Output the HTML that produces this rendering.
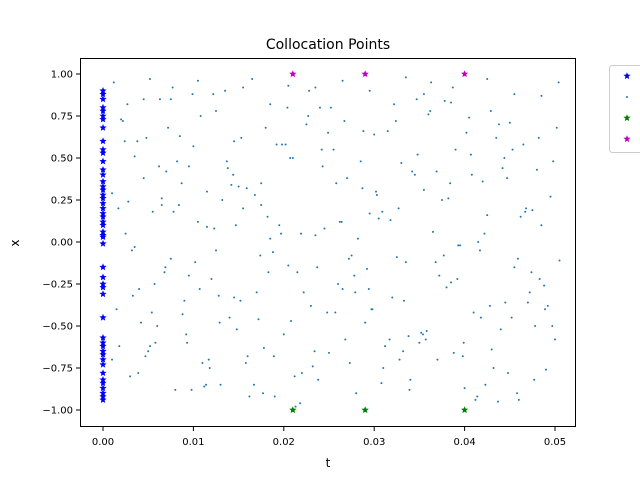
<!DOCTYPE html>
<html><head><meta charset="utf-8"><style>
body{margin:0;background:#fff;font-family:"Liberation Sans","DejaVu Sans",sans-serif}
svg text{font-family:"DejaVu Sans","Liberation Sans",sans-serif}
</style></head><body>
<svg id="c" width="640" height="480" xmlns="http://www.w3.org/2000/svg">
<rect width="640" height="480" fill="#fff"/>
<text x="328" y="49" text-anchor="middle" font-size="14">Collocation Points</text>
<text x="328" y="467" text-anchor="middle" font-size="12">t</text>
<text x="19" y="243" text-anchor="middle" font-size="12" transform="rotate(-90 19 243)">x</text>
<g id="marks"></g>
<rect x="80.5" y="58.5" width="495" height="368" fill="none" stroke="#000" stroke-width="1"/>
<g id="ticks"></g>
<g>
<rect x="609.5" y="65.5" width="40" height="87" rx="3" fill="#fff" stroke="#ccc"/>
</g>
<g id="leg"></g>
</svg>
<script>
const initT = [0];
const initX = [0.90,0.88,0.85,0.80,0.78,0.75,0.73,0.68,0.60,0.55,0.53,0.48,0.43,0.40,0.36,0.33,0.31,0.28,0.26,0.23,0.20,0.17,0.15,0.12,0.10,0.06,0.04,0.03,-0.01,-0.15,-0.21,-0.25,-0.27,-0.31,-0.45,-0.57,-0.60,-0.62,-0.65,-0.67,-0.70,-0.73,-0.78,-0.82,-0.84,-0.87,-0.90,-0.92,-0.94];
const bcT = [0.021,0.029,0.040];
const bcLowX = [-1,-1,-1];
const bcHighX = [1,1,1];
const intT = [0.0012,0.0010,0.0052,0.0075,0.0105,0.0135,0.0155,0.0165,0.0185,0.0205,0.0235,0.0265,0.0295,0.0335,0.0355,0.0385,0.0425,0.0455,0.0485,0.0035,0.0045,0.0065,0.0085,0.0095,0.0115,0.0145,0.0175,0.0195,0.0225,0.0255,0.0285,0.0315,0.0345,0.0375,0.0405,0.0435,0.0465,0.0495,0.0025,0.0055,0.0075,0.0105,0.0125,0.0155,0.0185,0.0215,0.0245,0.0275,0.0305,0.0335,0.0365,0.0395,0.0425,0.0455,0.0485,0.0015,0.0040,0.0060,0.0090,0.0120,0.0140,0.0170,0.0200,0.0230,0.0260,0.0290,0.0320,0.0350,0.0380,0.0410,0.0440,0.0470,0.0500,0.0030,0.0050,0.0080,0.0110,0.0130,0.0160,0.0190,0.0220,0.0250,0.0280,0.0310,0.0340,0.0370,0.0400,0.0430,0.0460,0.0490,0.0020,0.0045,0.0070,0.0100,0.0125,0.0150,0.0180,0.0210,0.0240,0.0270,0.0300,0.0330,0.0360,0.0390,0.0420,0.0450,0.0480,0.0010,0.0035,0.0065,0.0095,0.0115,0.0145,0.0175,0.0205,0.0235,0.0265,0.0295,0.0325,0.0355,0.0385,0.0415,0.0445,0.0475,0.0505,0.0028,0.0058,0.0088,0.0118,0.0148,0.0178,0.0208,0.0238,0.0268,0.0298,0.0328,0.0358,0.0388,0.0418,0.0448,0.0478,0.0018,0.0048,0.0078,0.0108,0.0138,0.0168,0.0198,0.0228,0.0258,0.0288,0.0318,0.0348,0.0378,0.0408,0.0438,0.0468,0.0498,0.0038,0.0068,0.0098,0.0128,0.0158,0.0188,0.0218,0.0248,0.0278,0.0308,0.0338,0.0368,0.0398,0.0428,0.0458,0.0488,0.0022,0.0052,0.0082,0.0112,0.0142,0.0172,0.0202,0.0232,0.0262,0.0292,0.0322,0.0352,0.0382,0.0412,0.0442,0.0472,0.0502,
0.0032,0.0062,0.0092,0.0122,0.0152,0.0182,0.0212,0.0242,0.0272,0.0302,0.0332,0.0362,0.0392,0.0422,0.0452,0.0482,0.0027,0.0057,0.0087,0.0117,0.0147,0.0177,0.0207,0.0237,0.0267,0.0297,0.0327,0.0357,0.0387,0.0417,0.0447,0.0477,0.0042,0.0072,0.0102,0.0132,0.0162,0.0192,0.0222,0.0252,0.0282,0.0312,0.0342,0.0372,0.0402,0.0432,0.0462,0.0492,0.0017,0.0047,0.0077,0.0107,0.0137,0.0167,0.0197,0.0227,0.0257,0.0287,0.0317,0.0347,0.0377,0.0407,0.0437,0.0467,0.0497,0.0033,0.0063,0.0093,0.0123,0.0153,0.0183,0.0213,0.0243,0.0273,0.0303,0.0333,0.0363,0.0393,0.0423,0.0453,0.0483,0.0024,0.0054,0.0084,0.0114,0.0144,0.0174,0.0204,0.0234,0.0264,0.0294,0.0324,0.0354,0.0384,0.0414,0.0444,0.0474,0.0504,0.0039,0.0069,0.0099,0.0129,0.0159,0.0189,0.0219,0.0249,0.0279,0.0309,0.0339,0.0369,0.0399,0.0429,0.0459,0.0489];
const intX = [0.95,-0.70,0.97,0.85,0.96,0.90,0.92,0.97,0.82,0.93,0.92,0.96,0.90,0.98,0.88,0.83,0.97,0.88,0.87,0.51,0.38,0.22,0.63,0.45,0.30,0.60,0.35,0.10,0.70,0.55,0.48,0.66,0.40,0.25,0.74,0.62,0.58,0.27,0.05,0.18,-0.10,0.12,-0.05,0.20,0.02,-0.18,0.08,-0.08,0.14,-0.12,0.06,-0.02,0.16,-0.15,0.10,-0.40,-0.28,-0.50,-0.35,-0.22,-0.45,-0.30,-0.55,-0.38,-0.25,-0.48,-0.33,-0.60,-0.27,-0.42,-0.52,-0.36,-0.58,-0.80,-0.65,-0.88,-0.72,-0.85,-0.68,-0.92,-0.78,-0.66,-0.90,-0.75,-0.82,-0.70,-0.87,-0.64,-0.94,-0.76,0.73,0.85,0.42,0.57,0.78,0.33,0.68,0.50,0.80,0.38,0.64,0.47,0.76,0.55,0.36,0.71,0.43,0.29,-0.03,0.26,-0.20,0.09,-0.33,0.22,-0.14,0.04,-0.28,0.17,-0.09,0.31,-0.24,0.00,-0.36,0.19,-0.11,0.24,-0.60,-0.43,-0.75,-0.52,-0.63,-0.47,-0.82,-0.58,-0.40,-0.70,-0.53,-0.66,-0.45,-0.78,-0.50,-0.62,0.62,0.18,0.75,0.44,0.28,0.58,0.90,0.35,0.66,0.13,0.52,0.84,0.40,0.70,0.20,0.48,0.60,-0.18,-0.88,-0.32,-0.72,-0.06,-0.96,-0.42,-0.20,-0.84,-0.56,-0.12,-0.68,-0.38,-0.90,-0.26,0.72,-0.62,0.48,-0.86,0.34,-0.46,0.58,-0.74,0.12,-0.16,0.82,-0.54,0.26,-0.94,0.44,-0.30,0.68,
-0.05,0.45,-0.55,0.88,-0.35,0.15,-0.80,0.55,-0.10,0.30,-0.65,0.78,-0.22,0.05,-0.45,0.62,0.82,-0.25,0.35,-0.70,0.10,-0.90,0.50,-0.15,0.72,-0.40,0.20,-0.58,0.92,-0.05,0.38,-0.82,-0.48,0.68,-0.12,0.25,-0.92,0.58,-0.30,0.80,0.02,-0.62,0.42,-0.20,0.65,-0.75,0.15,-0.38,0.20,-0.68,0.92,-0.28,0.48,-0.85,0.05,0.75,-0.42,0.32,-0.58,0.85,-0.08,0.52,-0.95,0.18,-0.50,-0.32,0.85,-0.60,0.08,0.62,-0.18,-0.98,0.45,-0.72,0.28,-0.35,0.95,-0.02,-0.85,0.55,-0.22,0.60,-0.42,0.22,-0.85,0.40,-0.08,0.80,-0.65,0.12,-0.28,0.72,-0.55,0.35,-0.92,0.50,-0.18,0.95,-0.78,-0.15,0.88,-0.48,0.32,-0.68,0.05,0.65,-0.30,0.18,-0.88,0.42,-0.60,0.78,-0.10,-0.40,0.30];
const xTicks = [0,0.01,0.02,0.03,0.04,0.05];
const xTickLabels = ["0.00","0.01","0.02","0.03","0.04","0.05"];
const yTicks = [1,0.75,0.5,0.25,0,-0.25,-0.5,-0.75,-1];
const yTickLabels = ["1.00","0.75","0.50","0.25","0.00","−0.25","−0.50","−0.75","−1.00"];
const NS="http://www.w3.org/2000/svg";
const sx=t=>103+t*9040, sy=v=>242-v*168;
function star(cx,cy,r,col){
  let p=[];for(let i=0;i<10;i++){const a=-Math.PI/2+i*Math.PI/5,rr=i%2?r*0.45:r;p.push((cx+rr*Math.cos(a)).toFixed(1)+","+(cy+rr*Math.sin(a)).toFixed(1));}
  const s=document.createElementNS(NS,"polygon");s.setAttribute("points",p.join(" "));s.setAttribute("fill",col);return s;
}
const marks=document.getElementById("marks");
intT.forEach((t,i)=>{if(intX[i]===undefined)return;const c=document.createElementNS(NS,"circle");c.setAttribute("cx",sx(t));c.setAttribute("cy",sy(intX[i]));c.setAttribute("r",1);c.setAttribute("fill","#1f77b4");


marks.appendChild(c);});
initX.forEach(v=>{const s=star(sx(initT[0]),sy(v),3.8,"#0000ff");


marks.appendChild(s);});
bcT.forEach((t,i)=>{const s=star(sx(t),sy(bcLowX[i]),3.8,"#008000");


marks.appendChild(s);
const u=star(sx(t),sy(bcHighX[i]),3.8,"#bf00bf");


marks.appendChild(u);});
const tk=document.getElementById("ticks");
xTicks.forEach((t,i)=>{const x=sx(t);const l=document.createElementNS(NS,"line");l.setAttribute("x1",x);l.setAttribute("x2",x);l.setAttribute("y1",427);l.setAttribute("y2",431);l.setAttribute("stroke","#000");tk.appendChild(l);
const tx=document.createElementNS(NS,"text");tx.setAttribute("x",x);tx.setAttribute("y",445);tx.setAttribute("text-anchor","middle");tx.setAttribute("font-size","10");tx.textContent=xTickLabels[i];


tk.appendChild(tx);});
yTicks.forEach((v,i)=>{const y=sy(v);const l=document.createElementNS(NS,"line");l.setAttribute("x1",76);l.setAttribute("x2",80);l.setAttribute("y1",y);l.setAttribute("y2",y);l.setAttribute("stroke","#000");tk.appendChild(l);
const tx=document.createElementNS(NS,"text");tx.setAttribute("x",73);tx.setAttribute("y",y+3.5);tx.setAttribute("text-anchor","end");tx.setAttribute("font-size","10");tx.textContent=yTickLabels[i];


tk.appendChild(tx);});
const leg=document.getElementById("leg");
[["#0000ff",76,"legend-initial"],["#1f77b4",97,"legend-interior"],["#008000",118,"legend-boundary-low"],["#bf00bf",139,"legend-boundary-high"]].forEach((d,i)=>{
let m;if(i===1){m=document.createElementNS(NS,"circle");m.setAttribute("cx",627);m.setAttribute("cy",d[1]);m.setAttribute("r",1);m.setAttribute("fill",d[0]);}else m=star(627,d[1],3.8,d[0]);


leg.appendChild(m);});
</script>
</body></html>
